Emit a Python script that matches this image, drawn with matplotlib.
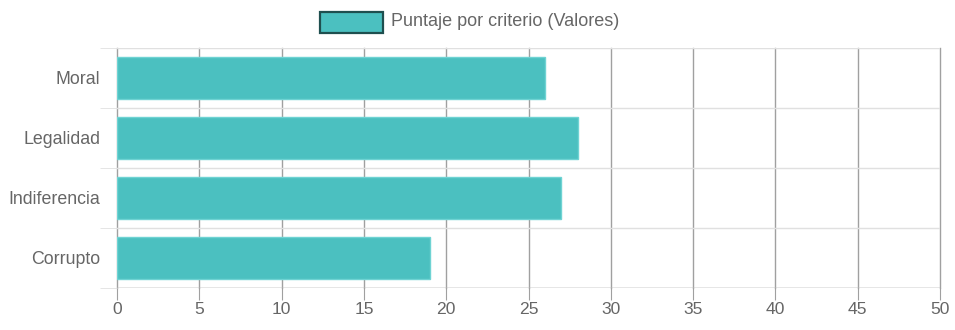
import matplotlib
matplotlib.use("Agg")
import matplotlib.pyplot as plt
from matplotlib.patches import Rectangle

categories = ["Moral", "Legalidad", "Indiferencia", "Corrupto"]
values = [26, 28, 27, 19]
xticks = [0, 5, 10, 15, 20, 25, 30, 35, 40, 45, 50]
series_label = "Puntaje por criterio (Valores)"

plt.rcParams['font.family'] = ['Liberation Sans', 'DejaVu Sans']

W, H = 955, 330
PX = 72 / 100  # points per pixel
fig = plt.figure(figsize=(W / 100, H / 100), dpi=100)
L, R, T, B = 117, 940, 48, 288
ax = fig.add_axes([L / W, 1 - B / H, (R - L) / W, (B - T) / H])

n = len(categories)
ypos = list(range(n))
ax.barh(ypos, values, height=0.7, color="#4BC0C0", edgecolor="#6fd3d3", linewidth=1, zorder=3)
ax.set_ylim(n - 0.5, -0.5)
ax.set_xlim(0, 50)

ax.set_xticks(xticks)
ax.set_xticklabels([str(t) for t in xticks])
ax.set_yticks([i - 0.5 for i in range(n + 1)], minor=True)
ax.set_yticks(ypos)
ax.set_yticklabels(categories)

# vertical gridlines (darker)
for t in xticks:
    ax.axvline(t, color="#a0a0a0", linewidth=1, zorder=1, clip_on=False)
# horizontal band lines
for b in [i - 0.5 for i in range(n + 1)]:
    ax.axhline(b, color="#e0e0e0", linewidth=1, zorder=1)

for s in ax.spines.values():
    s.set_visible(False)
ax.axhline(n - 0.5, color="#a0a0a0", linewidth=1, zorder=4)

ax.tick_params(axis="x", length=12 * PX, color="#a0a0a0", labelcolor="#666666", labelsize=12.6, pad=2 * PX)
ax.tick_params(axis="y", which="major", length=0, labelcolor="#666666", labelsize=12.8, pad=17 * PX)
ax.tick_params(axis="y", which="minor", length=17 * PX, color="#e0e0e0")

# legend
bx, by, bw, bh = 320, 12, 63, 21
fig.add_artist(Rectangle((bx / W, 1 - (by + bh) / H), bw / W, bh / H,
                         transform=fig.transFigure, facecolor="#4BC0C0",
                         edgecolor="#1f4f4f", linewidth=1.6))
fig.text(391 / W, 1 - 22 / H, series_label, fontsize=13, color="#666666",
         ha="left", va="center")

fig.savefig("out.png", dpi=100, facecolor="white")
